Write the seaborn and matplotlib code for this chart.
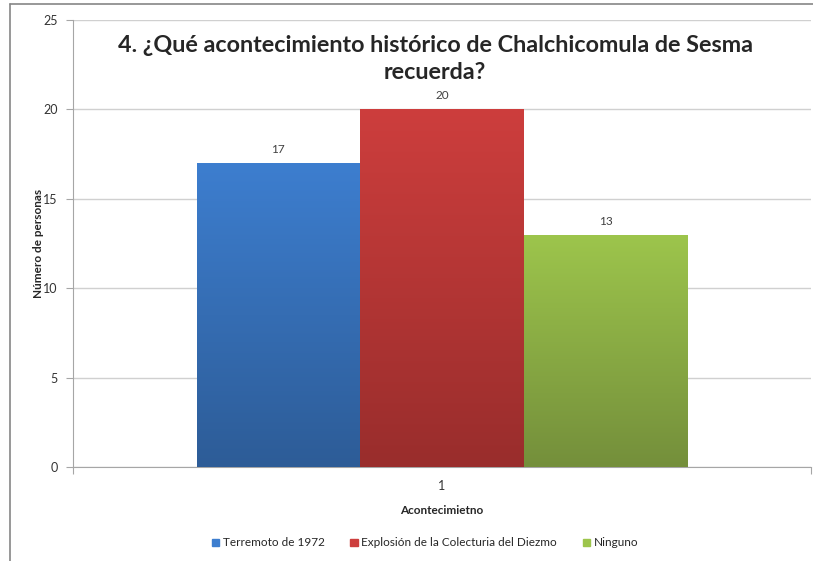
import numpy as np
import pandas as pd
import matplotlib
matplotlib.use("Agg")
import matplotlib.pyplot as plt
import matplotlib.colors as mcolors
from matplotlib.patches import Rectangle
import seaborn as sns

eventos = ["Terremoto de 1972", "Explosión de la Colecturia del Diezmo", "Ninguno"]
personas = [17, 20, 13]
grupo = ["1", "1", "1"]
y_ticks = [0, 5, 10, 15, 20, 25]

colores_top = ["#3D7ECF", "#CD3E3D", "#9DC54C"]
colores_bot = ["#2D5C97", "#992D2C", "#748F3B"]

df = pd.DataFrame({"grupo": grupo, "evento": eventos, "personas": personas})

sns.set_style("white")
plt.rcParams["font.family"] = ["Lato", "DejaVu Sans"]

fig = plt.figure(figsize=(8.13, 5.61), dpi=100)
ax = fig.add_axes([73 / 813, 1 - 467 / 561, 738 / 813, 447 / 561])

sns.barplot(data=df, x="grupo", y="personas", hue="evento", palette=colores_top,
            width=0.665, dodge=True, legend=False, ax=ax, saturation=1)

ax.set_xlim(-0.5, 0.5)
ax.set_ylim(0, 25)
ax.set_yticks(y_ticks)

# degradado vertical dentro de cada barra
for patch, top, bot, val in zip(ax.patches, colores_top, colores_bot, personas):
    x0, y0 = patch.get_x(), patch.get_y()
    w, h = patch.get_width(), patch.get_height()
    cmap = mcolors.LinearSegmentedColormap.from_list("g", [bot, top])
    grad = np.linspace(0, 1, 256).reshape(-1, 1)
    im = ax.imshow(grad, extent=[x0, x0 + w, y0, y0 + h], origin="lower",
                   aspect="auto", cmap=cmap, zorder=3)
    im.set_clip_path(patch)
    patch.set_edgecolor("none")
    ax.text(x0 + w / 2, val + 0.45, str(val), ha="center", va="bottom",
            fontsize=8.5, color="#404040", zorder=4)

ax.set_xlim(-0.5, 0.5)
ax.set_ylim(0, 25)

ax.grid(axis="y", color="#D0D0D0", linewidth=1)
ax.set_axisbelow(True)
for s in ["top", "right"]:
    ax.spines[s].set_visible(False)
ax.spines["left"].set_color("#A6A6A6")
ax.spines["bottom"].set_color("#A6A6A6")
ax.tick_params(axis="y", length=5, color="#A6A6A6", labelsize=9, labelcolor="#333333", pad=6, left=True)
ax.set_xticks([-0.5, 0, 0.5], ["", "1", ""])
ax.tick_params(axis="x", length=5, color="#A6A6A6", labelsize=9, labelcolor="#333333", pad=4, bottom=True)
ax.xaxis.get_major_ticks()[1].tick1line.set_visible(False)

ax.set_xlabel("Acontecimietno", fontsize=8.5, fontweight="bold")
ax.set_ylabel("Número de personas", fontsize=8.5, fontweight="bold")
ax.xaxis.set_label_coords(0.5, -0.085)
ax.yaxis.set_label_coords(-0.039, 0.5)

fig.text(435 / 813, 1 - 59 / 561, "4. ¿Qué acontecimiento histórico de Chalchicomula de Sesma\nrecuerda?",
         ha="center", va="center", fontsize=16.8, fontweight="bold", linespacing=1.3)

handles = [Rectangle((0, 0), 1, 1, color=c) for c in colores_top]
fig.legend(handles, eventos, loc="center", bbox_to_anchor=(425 / 813, 1 - 543 / 561),
           ncol=3, frameon=False, fontsize=8.5, handlelength=0.6, handleheight=0.6,
           handletextpad=0.3, columnspacing=2.2)

# borde del área del gráfico
fig.add_artist(plt.Line2D([10 / 813, 1], [1 - 4 / 561, 1 - 4 / 561], color="#868686", linewidth=1.2))
fig.add_artist(plt.Line2D([10 / 813, 10 / 813], [0, 1 - 4 / 561], color="#868686", linewidth=1.2))

fig.savefig("out.png", dpi=100)
